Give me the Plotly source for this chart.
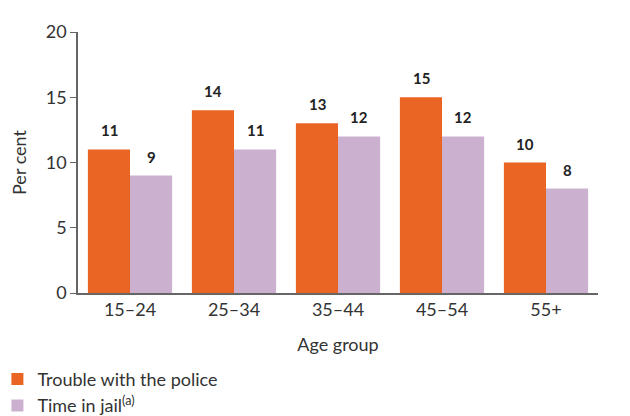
import plotly.graph_objects as go

categories = ["15–24", "25–34", "35–44", "45–54", "55+"]
police = [11, 14, 13, 15, 10]
jail = [9, 11, 12, 12, 8]
series_names = ["Trouble with the police", "Time in jail<sup>(a)</sup>"]
colors = ["#EA6424", "#CBB1CF"]

FONT = "Lato, 'Open Sans', sans-serif"
TXT = "#333333"

fig = go.Figure()
offsets = [-0.5, 0.5]
for k, (vals, name, col) in enumerate(zip([police, jail], series_names, colors)):
    fig.add_trace(go.Bar(
        x=categories, y=vals, name=name, marker_color=col, marker_line_width=0,
    ))
    for c, v in zip(categories, vals):
        fig.add_annotation(
            x=c, y=v, xref="x", yref="y", text=f"<b>{v}</b>", showarrow=False,
            xshift=offsets[k] * 42, yshift=19,
            font=dict(family=FONT, size=15, color="#222222"),
        )

fig.update_layout(
    width=630, height=416,
    margin=dict(l=78, r=32, t=32, b=123, autoexpand=False),
    paper_bgcolor="white", plot_bgcolor="white",
    barmode="group", bargap=0.19, bargroupgap=0,
    font=dict(family=FONT, size=18, color=TXT),
    showlegend=True,
    legend=dict(orientation="v", x=-0.155, xanchor="left", y=-0.26, yanchor="top",
                font=dict(family=FONT, size=18, color=TXT),
                itemwidth=30, tracegroupgap=0, traceorder="normal"),
    xaxis=dict(showline=True, linecolor="#666666", linewidth=1.5, ticks="",
               title=dict(text="Age group", standoff=19, font=dict(size=18)),
               tickfont=dict(size=18), automargin=False),
    yaxis=dict(range=[0, 20], tickvals=[0, 5, 10, 15, 20], showgrid=False,
               showline=True, linecolor="#666666", linewidth=1.5,
               ticks="outside", ticklen=6, tickcolor="#666666",
               title=dict(text="Per cent", standoff=14, font=dict(size=18)),
               tickfont=dict(size=18), zeroline=False, automargin=False),
)

fig.write_html("out.html", config={"displayModeBar": False},
               post_script="document.body.style.margin='0';document.body.style.padding='0';")
